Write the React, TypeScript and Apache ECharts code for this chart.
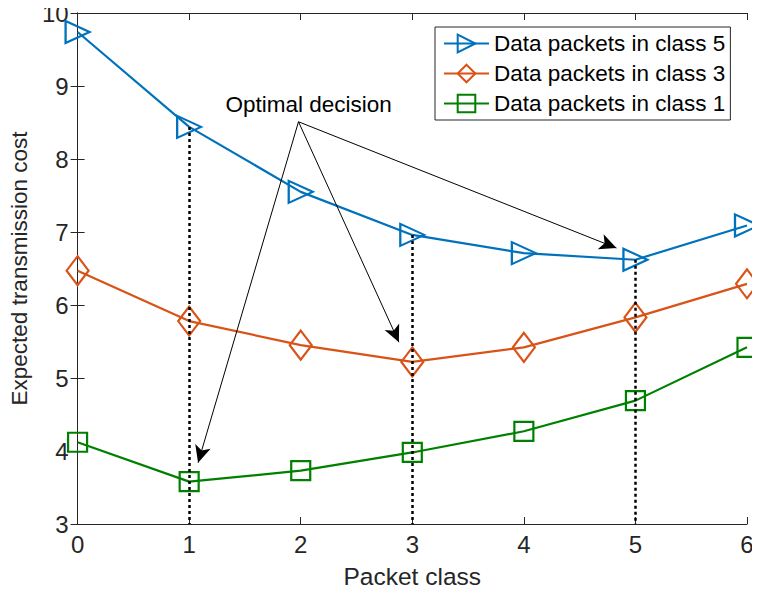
import React, { useEffect, useRef } from "react";
import * as echarts from "echarts";

// Packet classes on the x axis
const packetClasses = [0, 1, 2, 3, 4, 5, 6];

// Expected transmission cost for each traffic class
const class5Cost = [9.74, 8.44, 7.55, 6.96, 6.71, 6.62, 7.09];
const class3Cost = [6.47, 5.78, 5.45, 5.22, 5.42, 5.83, 6.29];
const class1Cost = [4.12, 3.58, 3.73, 3.98, 4.27, 4.69, 5.42];

const seriesNames = [
  "Data packets in class 5",
  "Data packets in class 3",
  "Data packets in class 1",
];

// Optimal packet class chosen for each traffic class (index into packetClasses)
const optimalClass = [1, 3, 5];

// Annotation: label anchor and arrow tips, in data coordinates
const annotationText = "Optimal decision";
const annotationLabelAt = [2.07, 8.74];
const arrowStart = [1.98, 8.51];
const arrowTips = [
  [1.08, 3.84],
  [2.88, 5.49],
  [4.83, 6.78],
];

const yTicks = { min: 3, max: 10, interval: 1 };
const xTicks = { min: 0, max: 6, interval: 1 };

const BLUE = "#0072BD";
const ORANGE = "#D95319";
const GREEN = "#008000";
const AXIS = "#262626";
const FONT = "'Liberation Sans', Arial, Helvetica, sans-serif";

export default function App() {
  const ref = useRef<HTMLDivElement>(null);

  useEffect(() => {
    if (!ref.current) return;
    const chart = echarts.init(ref.current, undefined, { renderer: "svg" });

    const pts = (vals: number[]) => packetClasses.map((x, i) => [x, vals[i]]);

    const dottedLines = optimalClass.map((c) => [
      { coord: [packetClasses[c], class5Cost[c]] },
      { coord: [packetClasses[c], yTicks.min] },
    ]);

    const arrows = arrowTips.map((tip) => [
      { coord: arrowStart, symbol: "none" },
      { coord: tip, symbol: "arrow" },
    ]);

    const axisLine = { show: true, lineStyle: { color: AXIS, width: 1 } };
    const axisTick = { show: true, inside: true, length: 7, lineStyle: { color: AXIS, width: 1 } };

    const lineSeries = (
      name: string,
      vals: number[],
      color: string,
      symbol: string,
      symbolSize: number | number[],
      symbolRotate = 0
    ) => ({
      type: "line",
      name,
      data: pts(vals),
      symbol,
      symbolSize,
      symbolRotate,
      showAllSymbol: true,
      lineStyle: { color, width: 2.2 },
      itemStyle: { color: "transparent", borderColor: color, borderWidth: 2.2 },
      emphasis: { disabled: true },
      z: 3,
    });

    chart.setOption({
      animation: false,
      backgroundColor: "#fff",
      textStyle: { fontFamily: FONT },
      grid: { left: 77, right: 13, top: 13, bottom: 70, containLabel: false },
      legend: {
        orient: "vertical",
        left: 435,
        top: 27,
        padding: [5, 5, 5, 8],
        itemWidth: 45,
        itemHeight: 22,
        itemGap: 7,
        backgroundColor: "#fff",
        borderColor: AXIS,
        borderWidth: 1,
        borderRadius: 0,
        textStyle: { fontSize: 22.5, color: "#000", fontFamily: FONT },
        data: seriesNames,
      },
      xAxis: [
        {
          type: "value",
          min: xTicks.min,
          max: xTicks.max,
          interval: xTicks.interval,
          name: "Packet class",
          nameLocation: "middle",
          nameGap: 40,
          nameTextStyle: { fontSize: 24.5, color: AXIS, fontFamily: FONT },
          axisLine,
          axisTick,
          axisLabel: { fontSize: 24, color: AXIS, margin: 8, fontFamily: FONT },
          splitLine: { show: false },
        },
        {
          type: "value",
          position: "top",
          min: xTicks.min,
          max: xTicks.max,
          interval: xTicks.interval,
          axisLine,
          axisTick,
          axisLabel: { show: false },
          splitLine: { show: false },
        },
      ],
      yAxis: [
        {
          type: "value",
          min: yTicks.min,
          max: yTicks.max,
          interval: yTicks.interval,
          name: "Expected transmission cost",
          nameLocation: "middle",
          nameGap: 44,
          nameTextStyle: { fontSize: 22.5, color: AXIS, fontFamily: FONT },
          axisLine,
          axisTick,
          axisLabel: { fontSize: 24, color: AXIS, margin: 9, fontFamily: FONT },
          splitLine: { show: false },
        },
        {
          type: "value",
          position: "right",
          min: yTicks.min,
          max: yTicks.max,
          interval: yTicks.interval,
          axisLine,
          axisTick,
          axisLabel: { show: false },
          splitLine: { show: false },
        },
      ],
      series: [
        {
          ...lineSeries(seriesNames[0], class5Cost, BLUE, "triangle", [22, 24], -90),
          markLine: {
            silent: true,
            symbol: ["none", "none"],
            label: { show: false },
            emphasis: { disabled: true },
            lineStyle: { color: "#000", width: 2.5, type: [3, 3] },
            data: dottedLines,
          },
        },
        lineSeries(seriesNames[1], class3Cost, ORANGE, "diamond", [22, 29]),
        {
          ...lineSeries(seriesNames[2], class1Cost, GREEN, "rect", 19),
          markLine: {
            silent: true,
            symbol: ["none", "arrow"],
            symbolSize: [12, 17],
            label: { show: false },
            emphasis: { disabled: true },
            lineStyle: { color: "#000", width: 1, type: "solid" },
            data: arrows,
          },
          markPoint: {
            silent: true,
            symbol: "circle",
            symbolSize: 0,
            data: [
              {
                coord: annotationLabelAt,
                label: {
                  show: true,
                  position: "inside",
                  formatter: annotationText,
                  fontSize: 22.5,
                  color: "#000",
                  fontFamily: FONT,
                },
              },
            ],
          },
        },
      ],
    });

    return () => chart.dispose();
  }, []);

  return <div ref={ref} style={{ width: 760, height: 594, margin: -8 }} />;
}
